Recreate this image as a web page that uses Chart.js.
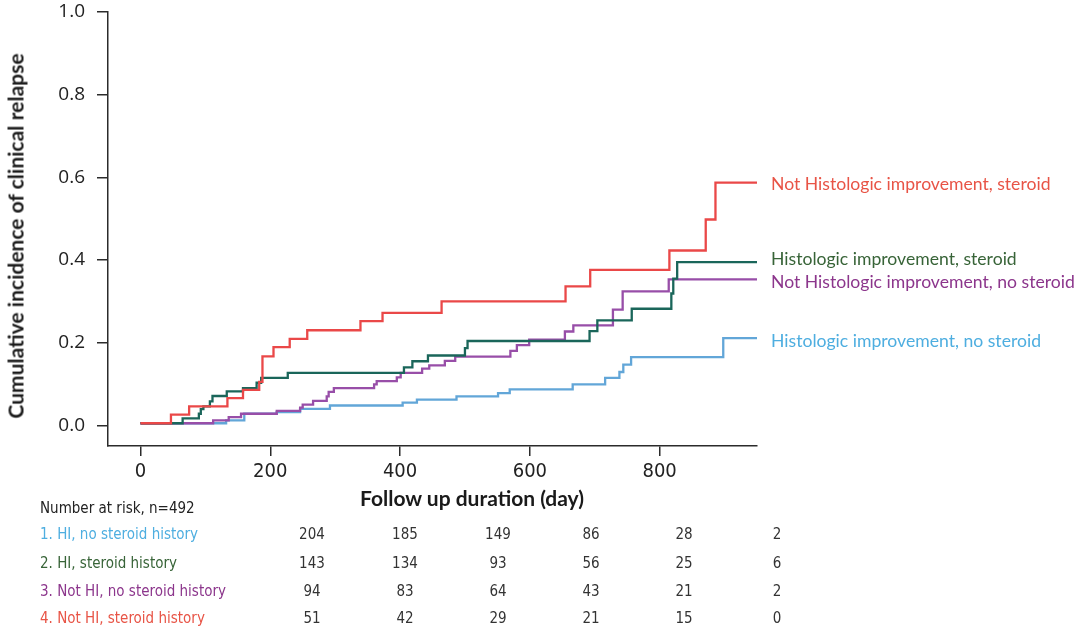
<!DOCTYPE html>
<html>
<head>
<meta charset="utf-8">
<title>Cumulative incidence of clinical relapse</title>
<script src="https://cdn.jsdelivr.net/npm/chart.js@4"></script>
<style>
  html, body { margin: 0; padding: 0; background: #fff; }
  #wrap { position: relative; width: 1080px; height: 629px; overflow: hidden; }
  #myChart { position: absolute; left: 0; top: 0; }
  .ytitle { position: absolute; left: 15px; top: 236px; transform: translate(-50%, -50%) rotate(-90deg);
            font: bold 21px Lato, sans-serif; color: #1a1a1a; white-space: nowrap; }
  .xtitle { position: absolute; left: 472px; top: 497px; transform: translate(-50%, -50%);
            font: bold 21px Lato, sans-serif; color: #1a1a1a; white-space: nowrap; }
  .risk { position: absolute; transform: translateY(-50%); font-family: 'Liberation Sans Narrow', 'DejaVu Sans Condensed', sans-serif;
          font-size: 15px; white-space: nowrap; color: #333; }
  .num { transform: translate(-50%, -50%); }
</style>
</head>
<body>
<div id="wrap">
  <canvas id="myChart" width="1080" height="629"></canvas>
  <div class="ytitle">Cumulative incidence of clinical relapse</div>
  <div class="xtitle">Follow up duration (day)</div>
</div>
<script>
// curvas (dias / incidência)
const hiNoSteroidDays = [0, 132, 160, 210, 246, 292, 404, 426, 487, 551, 569, 666, 716, 738, 744, 756, 898, 950]
const hiNoSteroidValues = [0.005, 0.012, 0.028, 0.032, 0.040, 0.048, 0.055, 0.062, 0.070, 0.078, 0.087, 0.099, 0.115, 0.129, 0.147, 0.165, 0.211, 0.211]

const hiSteroidDays = [0, 65, 90, 93, 97, 107, 111, 133, 158, 179, 186, 227, 406, 419, 443, 500, 504, 692, 704, 757, 818, 821, 827, 950]
const hiSteroidValues = [0.005, 0.017, 0.028, 0.039, 0.046, 0.058, 0.071, 0.082, 0.090, 0.103, 0.115, 0.127, 0.140, 0.155, 0.169, 0.187, 0.204, 0.228, 0.254, 0.282, 0.319, 0.355, 0.395, 0.395]

const notHiNoSteroidDays = [0, 112, 136, 155, 210, 246, 250, 266, 287, 290, 298, 360, 364, 395, 401, 434, 445, 469, 485, 570, 580, 599, 654, 667, 728, 743, 814, 950]
const notHiNoSteroidValues = [0.005, 0.012, 0.020, 0.028, 0.035, 0.043, 0.050, 0.059, 0.070, 0.081, 0.090, 0.099, 0.107, 0.116, 0.127, 0.137, 0.145, 0.156, 0.166, 0.180, 0.194, 0.207, 0.227, 0.242, 0.280, 0.324, 0.353, 0.353]

const notHiSteroidDays = [0, 47, 75, 134, 158, 183, 188, 205, 230, 257, 339, 373, 464, 655, 693, 815, 871, 886, 950]
const notHiSteroidValues = [0.005, 0.026, 0.046, 0.066, 0.086, 0.105, 0.167, 0.189, 0.209, 0.230, 0.252, 0.272, 0.300, 0.336, 0.376, 0.423, 0.498, 0.587, 0.587]

const curveLabels = ['Histologic improvement, no steroid', 'Histologic improvement, steroid',
                     'Not Histologic improvement, no steroid', 'Not Histologic improvement, steroid']
const labelValues = [0.203, 0.402, 0.345, 0.583]

const xTicks = [0, 200, 400, 600, 800]
const yTicks = [0, 0.2, 0.4, 0.6, 0.8, 1.0]

// tabela "Number at risk"
const riskTitle = 'Number at risk, n=492'
const riskGroups = ['1. HI, no steroid history', '2. HI, steroid history', '3. Not HI, no steroid history', '4. Not HI, steroid history']
const riskHiNoSteroid = [204, 185, 149, 86, 28, 2]
const riskHiSteroid = [143, 134, 93, 56, 25, 6]
const riskNotHiNoSteroid = [94, 83, 64, 43, 21, 2]
const riskNotHiSteroid = [51, 42, 29, 21, 15, 0]

const lineColors = ['rgb(98, 166, 216)', 'rgb(26, 102, 90)', 'rgb(152, 78, 168)', 'rgb(234, 72, 72)']
const textColors = ['rgb(78, 174, 224)', 'rgb(56, 100, 56)', 'rgb(140, 54, 140)', 'rgb(232, 84, 70)']
const drawOrder = [3, 1, 2, 0]

const toPoints = (days, vals) => days.map((d, i) => ({ x: d, y: vals[i] }))

const series = [
    toPoints(hiNoSteroidDays, hiNoSteroidValues),
    toPoints(hiSteroidDays, hiSteroidValues),
    toPoints(notHiNoSteroidDays, notHiNoSteroidValues),
    toPoints(notHiSteroidDays, notHiSteroidValues)
]

// rótulos no fim das curvas
const endLabels = {
    id: 'endLabels',
    afterDatasetsDraw(chart) {
        const ctx = chart.ctx
        const y = chart.scales.y
        ctx.save()
        ctx.font = '17.6px Lato, sans-serif'
        ctx.textAlign = 'left'
        ctx.textBaseline = 'middle'
        curveLabels.forEach((txt, i) => {
            ctx.fillStyle = textColors[i]
            ctx.fillText(txt, chart.chartArea.right + 14, y.getPixelForValue(labelValues[i]))
        })
        ctx.restore()
    }
}

const axisColor = '#2b2b2b'

const ctx = document.getElementById('myChart')
new Chart(ctx, {
    type: 'line',
    data: {
        datasets: series.map((pts, i) => ({
            label: curveLabels[i],
            data: pts,
            order: drawOrder[i],
            borderColor: lineColors[i],
            borderWidth: 2.3,
            stepped: 'before',
            pointRadius: 0,
            fill: false
        }))
    },
    options: {
        responsive: false,
        animation: false,
        devicePixelRatio: 1,
        layout: { padding: { top: 12, right: 323, left: 0, bottom: 0 } },
        plugins: { legend: { display: false }, tooltip: { enabled: false } },
        scales: {
            x: {
                type: 'linear',
                min: -50,
                max: 950,
                afterBuildTicks: s => { s.ticks = xTicks.map(v => ({ value: v })) },
                afterFit: s => { s.height = 183; s.paddingLeft = 0; s.paddingRight = 0 },
                ticks: {
                    color: '#222',
                    padding: 4,
                    maxRotation: 0,
                    font: { family: "'Liberation Sans Narrow', 'DejaVu Sans Condensed', sans-serif", size: 20 }
                },
                grid: { drawOnChartArea: false, tickLength: 10, color: axisColor, lineWidth: 1.5 },
                border: { color: axisColor, width: 1.5 }
            },
            y: {
                min: -0.05,
                max: 1.0,
                afterBuildTicks: s => { s.ticks = yTicks.map(v => ({ value: v })) },
                afterFit: s => { s.width = 108; s.paddingTop = 0; s.paddingBottom = 0 },
                ticks: {
                    color: '#222',
                    padding: 12,
                    callback: v => v.toFixed(1),
                    font: { family: "'Open Sans', sans-serif", size: 19 }
                },
                grid: { drawOnChartArea: false, tickLength: 11, color: axisColor, lineWidth: 1.5 },
                border: { color: axisColor, width: 1.5 }
            }
        }
    },
    plugins: [endLabels]
})

// monta a tabela
const wrap = document.getElementById('wrap')
function addText(txt, cls, left, top, color) {
    const d = document.createElement('div')
    d.className = cls
    d.textContent = txt
    d.style.left = left + 'px'
    d.style.top = top + 'px'
    if (color) d.style.color = color
    wrap.appendChild(d)
}
addText(riskTitle, 'risk', 40, 508, '#222')
const riskRows = [riskHiNoSteroid, riskHiSteroid, riskNotHiNoSteroid, riskNotHiSteroid]
const rowTops = [534, 563, 591, 618]
riskRows.forEach((row, r) => {
    addText(riskGroups[r], 'risk', 40, rowTops[r], textColors[r])
    row.forEach((n, c) => addText(String(n), 'risk num', 312 + 93 * c, rowTops[r], '#333'))
})
</script>
</body>
</html>
